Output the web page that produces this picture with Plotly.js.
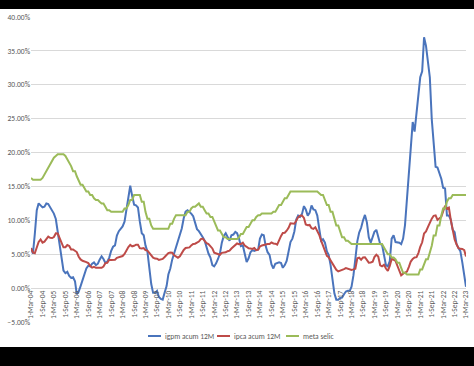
<!DOCTYPE html>
<html>
<head>
<meta charset="utf-8">
<script src="https://cdn.plot.ly/plotly-3.0.1.min.js"></script>
<style>
  html, body { margin: 0; padding: 0; background: #000; width: 474px; height: 366px; overflow: hidden; }
  #chart { position: absolute; left: 0; top: 9px; width: 474px; height: 338px; background: #fff; }
</style>
</head>
<body>
<div id="chart"></div>
<script>
// Monthly series, Mar-2004 .. Mar-2023 (229 months)
const startYear = 2004, startMonth = 3, nMonths = 229;

const igpm = [
  5.9, 5.1, 8.0, 11.5, 12.5, 12.2, 11.9, 12.0, 12.5, 12.4,
  11.9, 11.5, 11.0, 10.2, 8.3, 6.2, 4.3, 2.6, 2.2, 2.4, 1.8, 1.5,
  1.6, 1.0, -0.9, -0.5, 0.3, 1.3, 2.0, 2.9, 3.3, 3.2, 3.6, 3.8,
  3.4, 3.6, 4.2, 4.7, 4.3, 3.7, 3.9, 4.5, 5.5, 6.1, 6.3, 7.75,
  8.4, 8.8, 9.1, 9.8, 11.5, 13.4, 15.1, 13.6, 12.3, 12.2, 11.9, 9.8,
  8.1, 7.8, 6.3, 5.4, 3.0, 0.6, -0.7, -0.7, -0.4, -1.3, -1.6, -1.7,
  -0.65, 0.3, 2.0, 2.9, 4.2, 5.2, 5.8, 7.0, 7.8, 8.8, 10.3, 11.3,
  11.5, 11.3, 11.0, 10.6, 9.8, 8.7, 8.4, 8.0, 7.5, 7.0, 6.0, 5.1,
  4.5, 3.4, 3.2, 3.65, 4.3, 5.1, 6.7, 7.7, 8.1, 7.5, 7.0, 7.8,
  7.9, 8.3, 8.1, 7.3, 6.2, 6.3, 5.2, 3.85, 4.4, 5.3, 5.6, 5.5,
  5.6, 5.7, 7.3, 7.9, 7.8, 6.2, 5.3, 4.9, 3.5, 2.9, 3.6, 3.7,
  3.8, 3.7, 3.0, 3.4, 4.0, 5.4, 6.8, 7.3, 8.35, 10.1, 10.7, 10.5,
  10.95, 12.1, 11.6, 10.7, 11.1, 12.2, 11.6, 11.5, 10.7, 8.8, 7.0, 7.2,
  6.7, 5.4, 4.9, 3.4, 1.6, -0.8, -1.7, -1.7, -1.45, -1.4, -0.9, -0.5,
  -0.4, -0.4, 0.2, 1.9, 4.3, 6.9, 8.2, 8.9, 10.0, 10.8, 9.7, 7.5,
  6.7, 7.6, 8.3, 8.6, 7.6, 6.5, 6.4, 4.95, 3.4, 3.2, 4.0, 7.3,
  7.8, 6.8, 6.8, 6.7, 6.5, 7.3, 9.3, 13.0, 17.9, 20.9, 24.5, 23.1,
  25.7, 28.9, 31.1, 32.0, 37.0, 35.75, 33.8, 31.1, 24.9, 21.7, 17.9, 17.8,
  16.9, 16.1, 14.8, 14.7, 10.7, 10.7, 10.1, 8.6, 8.25, 6.5, 5.9, 5.45,
  3.8, 1.9, 0.2
];

const ipca = [
  5.89, 5.26, 5.15, 6.06, 6.81, 7.18, 6.71, 6.86, 7.24, 7.60,
  7.41, 7.39, 7.54, 8.07, 8.05, 7.27, 6.57, 6.02, 6.04, 6.36, 6.22, 5.69,
  5.70, 5.51, 5.32, 4.63, 4.23, 4.03, 3.97, 3.84, 3.70, 3.26, 3.02, 3.14,
  2.99, 3.02, 2.96, 3.00, 3.18, 3.69, 3.74, 4.18, 4.15, 4.12, 4.19, 4.46,
  4.56, 4.61, 4.73, 5.04, 5.58, 6.06, 6.37, 6.17, 6.25, 6.41, 6.39, 5.90,
  5.84, 5.90, 5.61, 5.53, 5.20, 4.80, 4.50, 4.36, 4.34, 4.17, 4.22, 4.31,
  4.59, 4.83, 5.17, 5.26, 5.22, 4.84, 4.60, 4.49, 4.70, 5.20, 5.63, 5.91,
  5.99, 6.01, 6.30, 6.51, 6.55, 6.71, 6.87, 7.23, 7.31, 6.97, 6.64, 6.50,
  6.22, 5.85, 5.24, 5.10, 4.99, 4.92, 5.20, 5.24, 5.28, 5.45, 5.53, 5.84,
  6.15, 6.31, 6.59, 6.49, 6.50, 6.70, 6.27, 6.09, 5.86, 5.84, 5.77, 5.91,
  5.59, 5.68, 6.15, 6.28, 6.37, 6.52, 6.50, 6.51, 6.75, 6.59, 6.56, 6.41,
  7.14, 7.70, 8.13, 8.17, 8.47, 8.89, 9.56, 9.53, 9.49, 9.93, 10.48, 10.67,
  10.71, 10.36, 9.39, 9.28, 9.32, 8.84, 8.74, 8.97, 8.48, 7.87, 6.99, 6.29,
  5.35, 4.76, 4.57, 4.08, 3.60, 3.00, 2.71, 2.46, 2.54, 2.70, 2.80, 2.95,
  2.86, 2.84, 2.68, 2.76, 2.86, 4.39, 4.48, 4.19, 4.53, 4.56, 4.05, 3.75,
  3.78, 3.89, 4.58, 4.94, 4.66, 3.37, 3.22, 3.43, 2.89, 2.54, 3.27, 4.31,
  4.19, 4.01, 3.30, 2.40, 1.88, 2.13, 2.31, 2.44, 3.14, 3.92, 4.31, 4.52,
  4.56, 5.20, 6.10, 6.76, 8.06, 8.35, 8.99, 9.68, 10.25, 10.67, 10.74, 10.06,
  10.38, 10.54, 11.30, 12.13, 11.73, 11.89, 10.07, 8.73, 7.17, 6.47, 5.90, 5.79,
  5.77, 5.60, 4.65
];

const selic = [
  16.25, 16, 16, 16, 16, 16, 16.25, 16.75, 17.25, 17.75,
  18.25, 18.75, 19.25, 19.5, 19.75, 19.75, 19.75, 19.75, 19.5, 19, 18.5, 18,
  17.25, 17.25, 16.5, 15.75, 15.25, 15.25, 14.75, 14.25, 14.25, 13.75, 13.75, 13.25,
  13, 13, 12.75, 12.5, 12.5, 12, 11.5, 11.5, 11.25, 11.25, 11.25, 11.25,
  11.25, 11.25, 11.25, 11.75, 11.75, 12.25, 13, 13, 13.75, 13.75, 13.75, 13.75,
  12.75, 12.75, 11.25, 10.25, 10.25, 9.25, 8.75, 8.75, 8.75, 8.75, 8.75, 8.75,
  8.75, 8.75, 8.75, 9.5, 9.5, 10.25, 10.75, 10.75, 10.75, 10.75, 10.75, 10.75,
  11.25, 11.25, 11.75, 12, 12, 12.25, 12.5, 12, 12, 11.5, 11, 11,
  10.5, 10.5, 9.75, 9, 8.5, 8.5, 8, 7.5, 7.5, 7.25, 7.25, 7.25,
  7.25, 7.25, 7.25, 7.5, 8, 8, 8.5, 9, 9, 9.5, 10, 10,
  10.5, 10.75, 10.75, 11, 11, 11, 11, 11, 11, 11.25, 11.25, 11.75,
  12.25, 12.25, 12.75, 13.25, 13.25, 13.75, 14.25, 14.25, 14.25, 14.25, 14.25, 14.25,
  14.25, 14.25, 14.25, 14.25, 14.25, 14.25, 14.25, 14.25, 14.25, 14, 13.75, 13.75,
  13, 12.25, 12.25, 11.25, 11.25, 10.25, 9.25, 9.25, 8.25, 7.5, 7.5, 7,
  7, 6.75, 6.5, 6.5, 6.5, 6.5, 6.5, 6.5, 6.5, 6.5, 6.5, 6.5,
  6.5, 6.5, 6.5, 6.5, 6.5, 6.5, 6.5, 6, 5.5, 5, 5, 4.5,
  4.5, 4.25, 3.75, 3.75, 3, 2.25, 2.25, 2, 2, 2, 2, 2,
  2, 2, 2.75, 2.75, 3.5, 4.25, 4.25, 5.25, 6.25, 7.75, 7.75, 9.25,
  9.25, 10.75, 11.75, 11.75, 12.75, 13.25, 13.25, 13.75, 13.75, 13.75, 13.75, 13.75,
  13.75, 13.75, 13.75
];

const seriesNames = ["igpm acum 12M", "ipca acum 12M", "meta selic"];
const seriesColors = ["#4A74BC", "#BE4B48", "#9BBB59"];

const dates = [];
for (let i = 0; i < nMonths; i++) {
  const m0 = (startMonth - 1) + i;
  const y = startYear + Math.floor(m0 / 12);
  const m = (m0 % 12) + 1;
  dates.push(y + "-" + String(m).padStart(2, "0") + "-01");
}

const fontFam = "Carlito, 'Liberation Sans Narrow', 'Liberation Sans', Arial, sans-serif";
const txtColor = "#595959";

const traces = [igpm, ipca, selic].map((vals, k) => ({
  type: "scatter",
  mode: "lines",
  name: seriesNames[k],
  x: dates,
  y: vals,
  line: { color: seriesColors[k], width: 2 },
  hoverinfo: "skip",
  showlegend: false
}));

const yMin = -5, yMax = 40;

// Page geometry of the plot area (div coordinates)
const W = 474, H = 338;
const mL = 31, mR = 8, mT = 8, mB = 25;
const pw = W - mL - mR, ph = H - mT - mB;
const px2x = p => (p - mL) / pw;
const py2y = p => (H - mB - p) / ph;

// Custom legend (line key + label) below the plot
const legendY = py2y(327);
const legendItems = [
  { x0: 148, x1: 161, tx: 163 },
  { x0: 217, x1: 230, tx: 232 },
  { x0: 286, x1: 299, tx: 301 }
];
const shapes = legendItems.map((it, k) => ({
  type: "line", xref: "paper", yref: "paper",
  x0: px2x(it.x0), x1: px2x(it.x1), y0: legendY, y1: legendY,
  line: { color: seriesColors[k], width: 2 }
}));
const annotations = legendItems.map((it, k) => ({
  xref: "paper", yref: "paper",
  x: px2x(it.tx), y: legendY, xanchor: "left", yanchor: "middle",
  text: seriesNames[k], showarrow: false,
  font: { family: fontFam, size: 7.5, color: txtColor }
}));

const layout = {
  width: W,
  height: H,
  margin: { l: mL, r: mR, t: mT, b: mB },
  paper_bgcolor: "#ffffff",
  plot_bgcolor: "#ffffff",
  font: { family: fontFam, size: 7, color: txtColor },
  showlegend: false,
  shapes: shapes,
  annotations: annotations,
  xaxis: {
    type: "date",
    range: ["2004-03-01", "2023-03-01"],
    tick0: "2004-03-01",
    dtick: "M6",
    tickformat: "%-d-%b-%y",
    tickangle: -90,
    showgrid: false,
    zeroline: false,
    showline: false,
    ticks: "",
    anchor: "free",
    position: (0 - yMin) / (yMax - yMin),
    automargin: false,
    tickfont: { family: fontFam, size: 7.5, color: txtColor }
  },
  yaxis: {
    range: [yMin, yMax],
    dtick: 5,
    tick0: 0,
    tickformat: ".2f",
    ticksuffix: "%",
    showgrid: true,
    gridcolor: "#d9d9d9",
    gridwidth: 1,
    zeroline: false,
    showline: false,
    ticks: "",
    automargin: false,
    tickfont: { family: fontFam, size: 7.5, color: txtColor }
  }
};

Plotly.newPlot("chart", traces, layout, { staticPlot: true, displayModeBar: false });
</script>
</body>
</html>
